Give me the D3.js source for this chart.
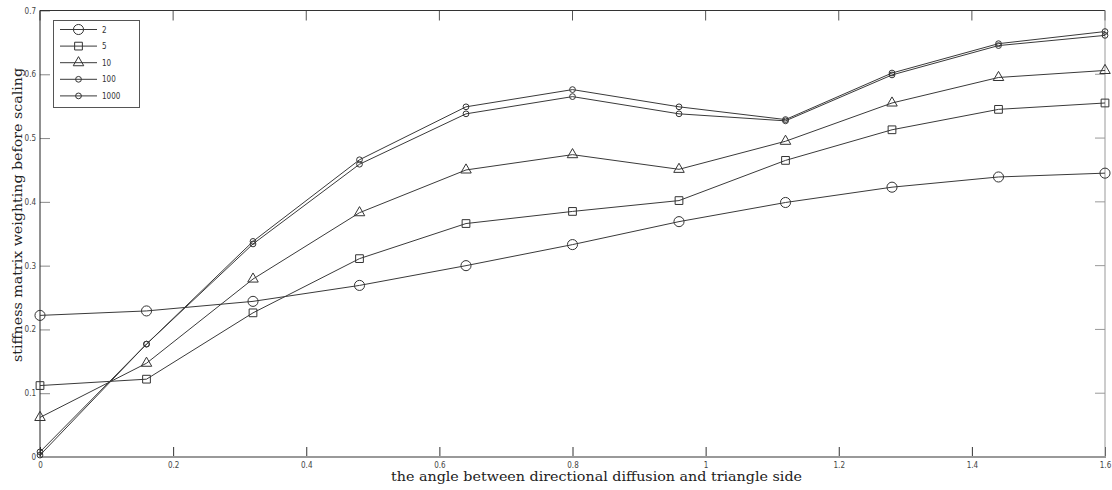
<!DOCTYPE html>
<html>
<head>
<meta charset="utf-8">
<script src="https://cdn.jsdelivr.net/npm/d3@7"></script>
<style>
  body { margin: 0; background: #fff; }
  svg { display: block; }
</style>
</head>
<body>
<div id="main"></div>
<script>
// angle values (x) and the five weighting series
var angles = [0, 0.16, 0.32, 0.48, 0.64, 0.8, 0.96, 1.12, 1.28, 1.44, 1.6];
var seriesNames = ["2", "5", "10", "100", "1000"];
var s2    = [0.222, 0.229, 0.244, 0.269, 0.300, 0.333, 0.369, 0.399, 0.423, 0.439, 0.445];
var s5    = [0.112, 0.122, 0.226, 0.311, 0.366, 0.385, 0.402, 0.465, 0.513, 0.545, 0.555];
var s10   = [0.062, 0.147, 0.279, 0.383, 0.450, 0.474, 0.451, 0.495, 0.555, 0.595, 0.606];
var s100  = [0.008, 0.177, 0.334, 0.459, 0.538, 0.565, 0.538, 0.527, 0.599, 0.645, 0.661];
var s1000 = [0.003, 0.177, 0.338, 0.466, 0.549, 0.576, 0.549, 0.529, 0.602, 0.648, 0.667];
var xTicks = [0, 0.2, 0.4, 0.6, 0.8, 1, 1.2, 1.4, 1.6];
var yTicks = [0, 0.1, 0.2, 0.3, 0.4, 0.5, 0.6, 0.7];

var allSeries = [s2, s5, s10, s100, s1000];
var symbols = [d3.symbolCircle, d3.symbolSquare, d3.symbolTriangle, d3.symbolCircle, d3.symbolCircle];
var symSizes = [80, 60, 48, 26, 26];

var width = 1112, height = 490;
var plotLeft = 40, plotRight = 1105, plotTop = 10.5, plotBottom = 457;

var svg = d3.select('#main')
    .append('svg')
    .attr("width", width)
    .attr("height", height);

var x = d3.scaleLinear().domain([0, 1.6]).range([plotLeft, plotRight]);
var y = d3.scaleLinear().domain([0, 0.7]).range([plotBottom, plotTop]);

var tickFont = "'DejaVu Sans Condensed', 'DejaVu Sans', sans-serif";

// bottom axis, ticks pointing up
var xAxis = svg.append("g")
    .attr("transform", "translate(0," + plotBottom + ")")
    .call(d3.axisBottom(x).tickValues(xTicks).tickSize(-10).tickPadding(5)
        .tickFormat(function(d) { return String(d); }));
xAxis.select(".domain").remove();
xAxis.selectAll("line").attr("stroke", "#333");
xAxis.selectAll("text").attr("font-family", tickFont).attr("font-size", 8).attr("fill", "#444");

// top ticks, pointing down
svg.append("g")
    .selectAll("line")
    .data(xTicks)
    .enter().append("line")
    .attr("x1", function(d) { return x(d); })
    .attr("x2", function(d) { return x(d); })
    .attr("y1", plotTop)
    .attr("y2", plotTop + 10)
    .attr("stroke", "#555");

// left axis, ticks pointing right
var yAxis = svg.append("g")
    .attr("transform", "translate(" + plotLeft + ",0)")
    .call(d3.axisLeft(y).tickValues(yTicks).tickSize(-10).tickPadding(4)
        .tickFormat(function(d) { return String(d); }));
yAxis.select(".domain").remove();
yAxis.selectAll("line").attr("stroke", "#888");
yAxis.selectAll("text").attr("font-family", tickFont).attr("font-size", 8).attr("fill", "#444");

// right ticks, pointing left
svg.append("g")
    .selectAll("line")
    .data(yTicks)
    .enter().append("line")
    .attr("x1", plotRight - 10)
    .attr("x2", plotRight)
    .attr("y1", function(d) { return y(d); })
    .attr("y2", function(d) { return y(d); })
    .attr("stroke", "#999");

// frame
svg.append("line").attr("x1", plotLeft).attr("x2", plotRight).attr("y1", plotTop).attr("y2", plotTop)
    .attr("stroke", "#333");
svg.append("line").attr("x1", plotRight).attr("x2", plotRight).attr("y1", plotTop).attr("y2", plotBottom)
    .attr("stroke", "#999");
svg.append("line").attr("x1", plotLeft).attr("x2", plotRight + 1).attr("y1", plotBottom).attr("y2", plotBottom)
    .attr("stroke", "#999").attr("stroke-width", 2);
svg.append("line").attr("x1", plotLeft).attr("x2", plotLeft).attr("y1", plotTop).attr("y2", plotBottom)
    .attr("stroke", "#222");

var line = d3.line()
    .x(function(d, i) { return x(angles[i]); })
    .y(function(d) { return y(d); })
    .curve(d3.curveLinear);

allSeries.forEach(function(vals, k) {
    var g = svg.append("g");
    g.append("path")
        .attr("d", line(vals))
        .attr("fill", "none")
        .attr("stroke", "#3a3a3a")
        .attr("stroke-width", 1);
    g.selectAll("path.marker")
        .data(vals)
        .enter().append("path")
        .attr("class", "marker")
        .attr("transform", function(d, i) { return "translate(" + x(angles[i]) + "," + y(d) + ")"; })
        .attr("d", d3.symbol().type(symbols[k]).size(symSizes[k]))
        .attr("fill", "none")
        .attr("stroke", "#333")
        .attr("stroke-width", 1);
});

// legend
var legend = svg.append("g");
legend.append("rect")
    .attr("x", 53.5).attr("y", 20.5)
    .attr("width", 86).attr("height", 87)
    .attr("fill", "#fff")
    .attr("stroke", "#555");

seriesNames.forEach(function(name, k) {
    var ly = 29.5 + k * 16.6;
    legend.append("line")
        .attr("x1", 60).attr("x2", 97).attr("y1", ly).attr("y2", ly)
        .attr("stroke", "#3a3a3a");
    legend.append("path")
        .attr("transform", "translate(78.5," + ly + ")")
        .attr("d", d3.symbol().type(symbols[k]).size(symSizes[k]))
        .attr("fill", "none")
        .attr("stroke", "#333");
    legend.append("text")
        .attr("x", 102).attr("y", ly + 3)
        .attr("font-family", tickFont)
        .attr("font-size", 8)
        .attr("fill", "#333")
        .text(name);
});

// axis titles
var titleFont = "'DejaVu Serif', 'Liberation Serif', serif";
svg.append("text")
    .attr("x", 391).attr("y", 481)
    .attr("font-family", titleFont)
    .attr("font-size", 13)
    .attr("fill", "#222")
    .attr("textLength", 411)
    .attr("lengthAdjust", "spacingAndGlyphs")
    .text("the angle between directional diffusion and triangle side");

svg.append("text")
    .attr("transform", "translate(22,362) rotate(-90)")
    .attr("font-family", titleFont)
    .attr("font-size", 13)
    .attr("fill", "#222")
    .attr("textLength", 294)
    .attr("lengthAdjust", "spacingAndGlyphs")
    .text("stiffness matrix weighting before scaling");
</script>
</body>
</html>
